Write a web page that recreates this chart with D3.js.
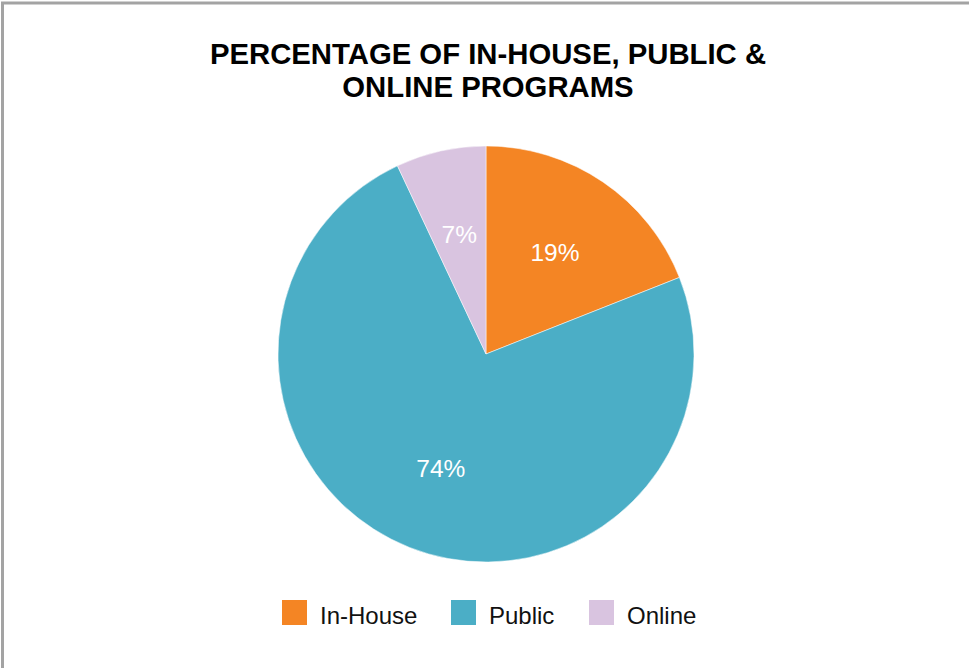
<!DOCTYPE html>
<html>
<head>
<meta charset="utf-8">
<script src="https://cdn.jsdelivr.net/npm/d3@7"></script>
<style>
  html, body { margin: 0; padding: 0; background: #fff; }
  svg { display: block; font-family: "Liberation Sans", Arial, Helvetica, sans-serif; }
</style>
</head>
<body>
<svg id="chart" width="969" height="668"></svg>
<script>
// Program mix, in percent
const categories = ["In-House", "Public", "Online"];
const values = [19, 74, 7];
const colors = ["#F48524", "#4BAEC6", "#D9C4E0"];
const titleLines = ["PERCENTAGE OF IN-HOUSE, PUBLIC &", "ONLINE PROGRAMS"];

const W = 969, H = 668;
const svg = d3.select("#chart");

// outer frame
svg.append("rect")
  .attr("x", 2.5).attr("y", 3).attr("width", W + 10).attr("height", H + 10)
  .attr("fill", "#fff").attr("stroke", "#a3a3a3").attr("stroke-width", 3);

// title
svg.append("g").selectAll("text")
  .data(titleLines).join("text")
  .attr("x", 488).attr("y", (d, i) => 64 + i * 33)
  .attr("text-anchor", "middle")
  .attr("font-size", 29.3).attr("font-weight", "bold").attr("fill", "#000")
  .text(d => d);

// pie
const cx = 486, cy = 354, R = 208;
const data = categories.map((c, i) => ({ name: c, value: values[i], color: colors[i] }));
const pie = d3.pie().value(d => d.value).sort(null);
const arc = d3.arc().innerRadius(0).outerRadius(R);
const labelArc = d3.arc().innerRadius(R * 0.59).outerRadius(R * 0.59);

const g = svg.append("g").attr("transform", `translate(${cx},${cy})`);
const arcs = pie(data);
g.selectAll("path").data(arcs).join("path")
  .attr("d", arc).attr("fill", d => d.data.color)
  .attr("stroke", "#fff").attr("stroke-width", 0.5);

g.selectAll("text").data(arcs).join("text")
  .attr("transform", d => `translate(${labelArc.centroid(d)})`)
  .attr("text-anchor", "middle").attr("dy", "0.36em")
  .attr("font-size", 24.5).attr("fill", "#fff")
  .text(d => d.data.value + "%");

// legend
const legendX = [282, 451, 589];
const lg = svg.append("g");
const items = lg.selectAll("g").data(data).join("g")
  .attr("transform", (d, i) => `translate(${legendX[i]},600)`);
items.append("rect").attr("width", 25).attr("height", 25).attr("fill", d => d.color);
items.append("text").attr("x", 38).attr("y", 24)
  .attr("font-size", 24).attr("fill", "#111")
  .text(d => d.name);
</script>
</body>
</html>
